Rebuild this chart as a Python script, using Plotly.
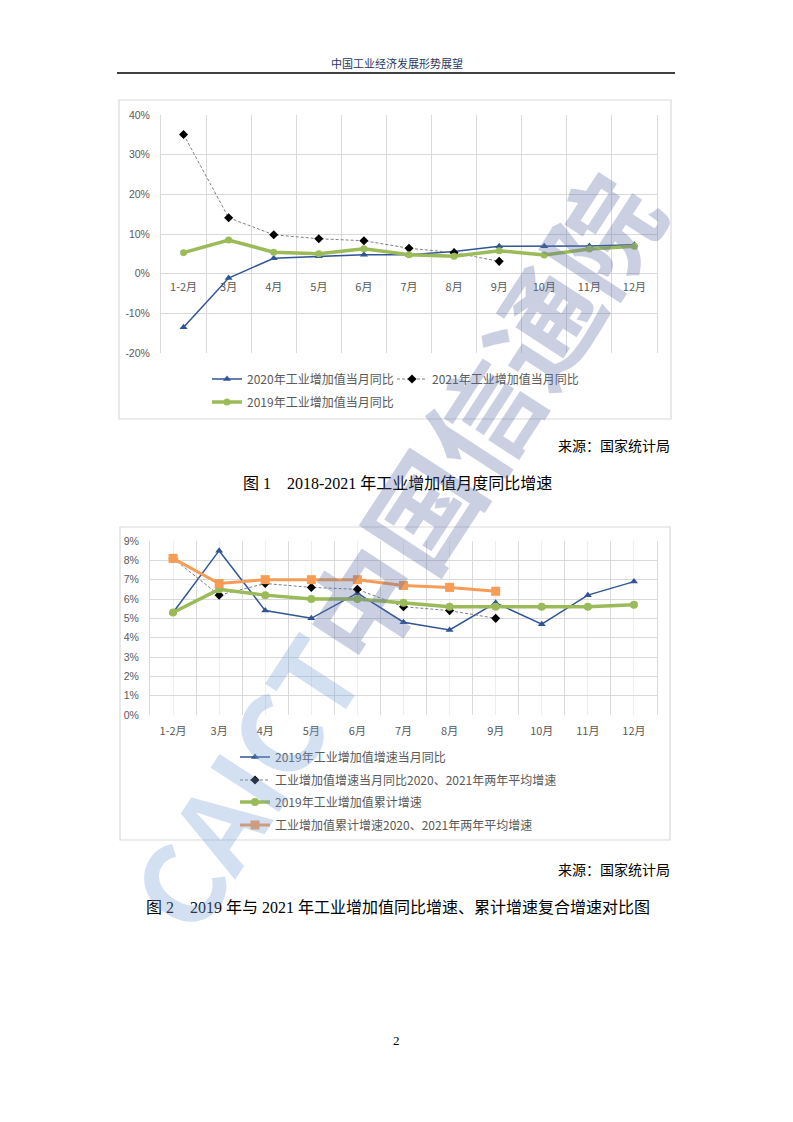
import plotly.graph_objects as go

W, H = 793, 1122
OFF = 8  # browser default body margin

# ---------------- data ----------------
months = ["1-2月", "3月", "4月", "5月", "6月", "7月", "8月", "9月", "10月", "11月", "12月"]

# Figure 1: monthly YoY growth of industrial value added (%)
yoy_2020 = [-13.5, -1.1, 3.9, 4.4, 4.8, 4.8, 5.6, 6.9, 6.9, 7.0, 7.3]
yoy_2021 = [35.1, 14.1, 9.8, 8.8, 8.3, 6.4, 5.3, 3.1]
yoy_2019 = [5.3, 8.5, 5.4, 5.0, 6.3, 4.8, 4.4, 5.8, 4.7, 6.2, 6.9]

# Figure 2 (%)
f2_2019_month = [5.3, 8.5, 5.4, 5.0, 6.3, 4.8, 4.4, 5.8, 4.7, 6.2, 6.9]
f2_avg_month = [8.1, 6.2, 6.8, 6.6, 6.5, 5.6, 5.4, 5.0]
f2_2019_cum = [5.3, 6.5, 6.2, 6.0, 6.0, 5.8, 5.6, 5.6, 5.6, 5.6, 5.7]
f2_avg_cum = [8.1, 6.8, 7.0, 7.0, 7.0, 6.7, 6.6, 6.4]

y1_ticks = [-20, -10, 0, 10, 20, 30, 40]
y2_ticks = [0, 1, 2, 3, 4, 5, 6, 7, 8, 9]

# ---------------- helpers ----------------
def px(x):
    return (x - OFF) / W

def py(y):
    return 1 - (y - OFF) / H

CJK = "Noto Sans CJK SC"
GRID = "#D9D9D9"
TXT = "#595959"
BLUE = "#2F5597"
GREEN = "#9BBB59"
ORANGE = "#F59D56"
DASH = "3px,2px"

fig = go.Figure()

# ---------- chart 1 ----------
fig.add_trace(go.Scatter(
    x=months, y=yoy_2020, name="2020年工业增加值当月同比", mode="lines+markers",
    line=dict(color=BLUE, width=1.5), marker=dict(symbol="triangle-up", size=7, color=BLUE),
    xaxis="x", yaxis="y", legend="legend"))
fig.add_trace(go.Scatter(
    x=months[:len(yoy_2021)], y=yoy_2021, name="2021年工业增加值当月同比", mode="lines+markers",
    line=dict(color="#7F7F7F", width=1, dash=DASH), marker=dict(symbol="diamond", size=7, color="#000000"),
    xaxis="x", yaxis="y", legend="legend2"))
fig.add_trace(go.Scatter(
    x=months, y=yoy_2019, name="2019年工业增加值当月同比", mode="lines+markers",
    line=dict(color=GREEN, width=3.5), marker=dict(symbol="circle", size=7, color=GREEN),
    xaxis="x", yaxis="y", legend="legend3"))

# ---------- chart 2 ----------
idx = list(range(len(months)))
fig.add_trace(go.Scatter(
    x=idx, y=f2_2019_month, name="2019年工业增加值增速当月同比", mode="lines+markers",
    line=dict(color=BLUE, width=1.5), marker=dict(symbol="triangle-up", size=7, color=BLUE),
    xaxis="x2", yaxis="y2", legend="legend4"))
fig.add_trace(go.Scatter(
    x=idx[:len(f2_avg_month)], y=f2_avg_month, name="工业增加值增速当月同比2020、2021年两年平均增速",
    mode="lines+markers",
    line=dict(color="#7F7F7F", width=1, dash=DASH), marker=dict(symbol="diamond", size=7, color="#000000"),
    xaxis="x2", yaxis="y2", legend="legend5"))
fig.add_trace(go.Scatter(
    x=idx, y=f2_2019_cum, name="2019年工业增加值累计增速", mode="lines+markers",
    line=dict(color=GREEN, width=3.5), marker=dict(symbol="circle", size=8, color=GREEN),
    xaxis="x2", yaxis="y2", legend="legend6"))
fig.add_trace(go.Scatter(
    x=idx[:len(f2_avg_cum)], y=f2_avg_cum, name="工业增加值累计增速2020、2021年两年平均增速",
    mode="lines+markers",
    line=dict(color=ORANGE, width=3), marker=dict(symbol="square", size=9, color=ORANGE),
    xaxis="x2", yaxis="y2", legend="legend7"))

tickfont = dict(family=CJK, size=11, color=TXT)
numfont = dict(family="Liberation Sans, " + CJK, size=10.5, color=TXT)
legfont = dict(family=CJK, size=12, color=TXT)

y1_top, y1_bot = 115, 353
zero1 = y1_top + (40 / 60) * (y1_bot - y1_top)

shapes = [
    dict(type="line", xref="paper", yref="paper", x0=px(117), x1=px(675), y0=py(73), y1=py(73),
         line=dict(color="#000000", width=1.5)),
    dict(type="rect", xref="paper", yref="paper", x0=px(119), x1=px(671), y0=py(100), y1=py(419),
         line=dict(color=GRID, width=1.2), layer="below"),
    dict(type="rect", xref="paper", yref="paper", x0=px(120), x1=px(670), y0=py(527), y1=py(840),
         line=dict(color=GRID, width=1.2), layer="below"),
]

serif = "Liberation Serif, " + CJK

def ann(text, x, y, size, xanchor="center", family=CJK, color="#000000"):
    return dict(text=text, x=px(x), y=py(y), xref="paper", yref="paper", xanchor=xanchor,
                yanchor="middle", showarrow=False, font=dict(family=family, size=size, color=color))

annotations = [
    ann("中国工业经济发展形势展望", 397, 63, 11, color="#1F3864"),
    ann("来源：国家统计局", 672, 445, 14, xanchor="right"),
    ann("图 1　2018-2021 年工业增加值月度同比增速", 397, 483, 16, family=serif),
    ann("来源：国家统计局", 672, 869, 14, xanchor="right"),
    ann("图 2　2019 年与 2021 年工业增加值同比增速、累计增速复合增速对比图", 398, 907, 16, family=serif),
    ann("2", 396, 1040, 13, family="Liberation Serif"),
    # watermark
    dict(text="<span style='color:rgba(120,160,215,0.33)'>CAICT</span>"
              "<span style='color:rgba(95,110,165,0.33)'>中国信通院</span>",
         x=px(392), y=py(550), xref="paper", yref="paper", xanchor="center", yanchor="middle",
         showarrow=False, textangle=-57,
         font=dict(family=CJK, size=110, weight="bold")),
]

def leg(sample_x, y):
    return dict(orientation="h", x=px(sample_x - 5), y=py(y), xanchor="left", yanchor="middle",
                font=legfont, bgcolor="rgba(0,0,0,0)", itemwidth=30)

fig.update_layout(
    width=W, height=H, margin=dict(l=0, r=0, t=0, b=0, pad=0, autoexpand=False),
    paper_bgcolor="#FFFFFF", plot_bgcolor="rgba(0,0,0,0)",
    font=dict(family=CJK, color=TXT),
    showlegend=True,
    xaxis=dict(domain=[px(161), px(657)], type="category", anchor="free", position=py(zero1),
               range=[-0.5, len(months) - 0.5], automargin=False,
               tickson="boundaries", showgrid=True, gridcolor=GRID, gridwidth=1,
               showline=False, zeroline=False, ticks="", tickfont=tickfont, ticklabelstandoff=5),
    yaxis=dict(domain=[py(y1_bot), py(y1_top)], anchor="x", range=[-20, 40], tickmode="array",
               tickvals=y1_ticks, ticktext=[f"{v}%" for v in y1_ticks], automargin=False,
               showgrid=True, gridcolor=GRID, zeroline=False,
               showline=True, mirror=True, linecolor=GRID, ticks="", tickfont=numfont,
               ticklabelstandoff=8),
    xaxis2=dict(domain=[px(150), px(657)], anchor="y2", range=[-0.5, len(months) - 0.5],
                tickmode="array", tickvals=idx, ticktext=months, showgrid=True, gridcolor="#EEEEEE",
                minor=dict(tickvals=[i - 0.5 for i in range(len(months) + 1)], showgrid=True,
                           gridcolor=GRID, ticks=""), automargin=False,
                showline=False, zeroline=False, ticks="", tickfont=tickfont, ticklabelstandoff=8),
    yaxis2=dict(domain=[py(715), py(541)], anchor="x2", range=[0, 9], tickmode="array",
                tickvals=y2_ticks, ticktext=[f"{v}%" for v in y2_ticks], automargin=False,
                showgrid=True, gridcolor=GRID, zeroline=False,
                showline=True, mirror=True, linecolor=GRID, ticks="",
                tickfont=numfont, ticklabelstandoff=8),
    legend=leg(212, 379),
    legend2=leg(397, 379),
    legend3=leg(212, 402),
    legend4=leg(240, 757),
    legend5=leg(240, 780),
    legend6=leg(240, 802),
    legend7=leg(240, 825),
    shapes=shapes, annotations=annotations,
)

fig.write_html("out.html")
